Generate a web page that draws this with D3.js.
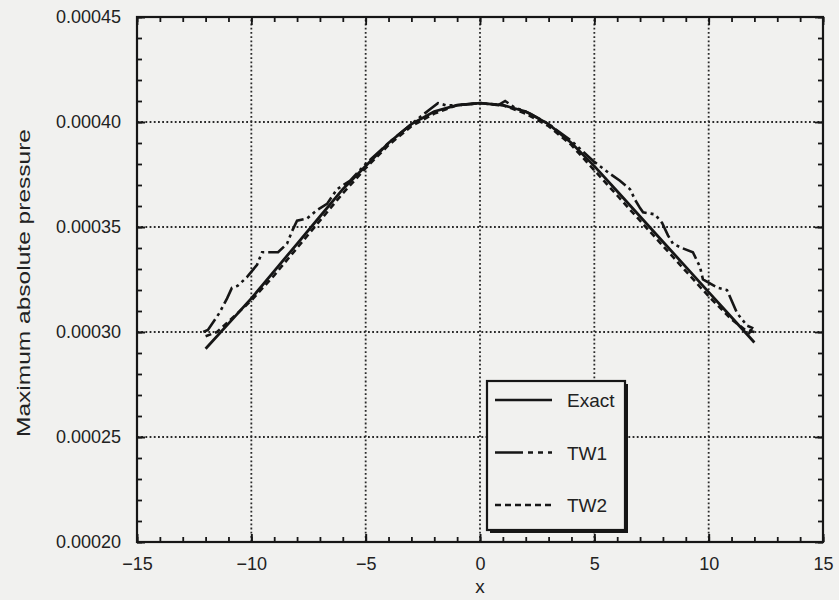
<!DOCTYPE html>
<html>
<head>
<meta charset="utf-8">
<script src="https://cdn.jsdelivr.net/npm/d3@7/dist/d3.min.js"></script>
<style>
  body { margin: 0; background: #f1f1ef; }
  svg { display: block; font-family: 'Liberation Sans', Arial, sans-serif; }
</style>
</head>
<body>
<svg width="839" height="600"></svg>
<script>
const xMajor = [-15, -10, -5, 0, 5, 10, 15]
const yMajor = [0.0002, 0.00025, 0.0003, 0.00035, 0.0004, 0.00045]

// Exact solution
const exactX = [-12, -11, -10, -9, -8, -7, -6, -5, -4, -3, -2, -1, 0, 1, 2, 3, 4, 5, 6, 7, 8, 9, 10, 11, 12]
const exactY = [0.000292, 0.000304, 0.000316, 0.000329, 0.000342, 0.000355, 0.000368, 0.000379, 0.000390, 0.000399, 0.000405, 0.000408, 0.000409,
  0.000408, 0.000405, 0.000399, 0.000390, 0.000379, 0.000367, 0.000355, 0.000343, 0.000331, 0.000319, 0.000307, 0.000295]

// TW1 (staircase-like)
const tw1X = [-12.1, -11.9, -11.4, -11.06, -10.85, -10.6, -10.2, -9.75, -9.53, -8.83, -8.44, -8.22, -8.0, -7.57, -7.13, -6.69, -6.25, -5.69, -5.0,
  -4.0, -3.0, -2.2, -1.84, -1.5, -1.0, 0, 0.8, 1.1, 1.5, 2.2, 3.0, 4.0, 5.0, 5.6,
  6.12, 6.56, 6.78, 7.0, 7.13, 7.65, 7.96, 8.22, 8.44, 8.83, 9.31, 9.62, 9.75, 10.41, 10.8, 11.24, 11.68, 11.9, 11.75]
const tw1Y = [0.000300, 0.000301, 0.000309, 0.000316, 0.000321, 0.000322, 0.000326, 0.000332, 0.000338, 0.000338, 0.000342, 0.000348, 0.000353, 0.000354, 0.000358, 0.000361, 0.000368, 0.000372, 0.000380,
  0.000390, 0.000399, 0.000406, 0.000409, 0.000408, 0.000408, 0.000409, 0.000408, 0.000410, 0.000407, 0.000404, 0.000399, 0.000391, 0.000381, 0.000376,
  0.000372, 0.000368, 0.000363, 0.000359, 0.000357, 0.000356, 0.000352, 0.000346, 0.000342, 0.000340, 0.000338, 0.000331, 0.000325, 0.000321, 0.000320, 0.000309, 0.000303, 0.000302, 0.000299]

// TW2 (close to exact)
const tw2X = [-12, -11.5, -11, -10, -9, -8, -7, -6, -5, -4, -3, -2, -1, 0, 1, 2, 3, 4, 5, 6, 7, 8, 9, 10, 11, 11.6, 12]
const tw2Y = [0.000298, 0.000300, 0.000305, 0.000315, 0.000327, 0.000340, 0.000353, 0.000366, 0.000378, 0.000389, 0.000398, 0.000404, 0.000408, 0.000409,
  0.000408, 0.000404, 0.000398, 0.000389, 0.000377, 0.000365, 0.000353, 0.000341, 0.000329, 0.000317, 0.000306, 0.000301, 0.000300]

const legendNames = ['Exact', 'TW1', 'TW2']
const dashes = [null, '18,4,3,4,3,4', '6,4']

let field = d3.select('svg')
let xScale = d3.scaleLinear().domain([-15, 15]).range([137, 823])
let yScale = d3.scaleLinear().domain([0.0002, 0.00045]).range([542, 17])
let xMinor = d3.range(-15, 15.01, 1)
let yMinor = d3.range(0, 26).map(i => 0.0002 + i * 0.00001)
let ink = '#161616'
let textInk = '#222'

// grid
let grid = field.append('g')
  .attr('stroke', '#2a2a2a')
  .attr('stroke-width', 1.8)
  .attr('stroke-dasharray', '1.8,2.4')
grid.selectAll('.gx')
  .data(xMajor.slice(1, -1))
  .enter()
  .append('line')
  .attr('x1', d => xScale(d)).attr('x2', d => xScale(d))
  .attr('y1', yScale(0.0002)).attr('y2', yScale(0.00045))
grid.selectAll('.gy')
  .data(yMajor.slice(1, -1))
  .enter()
  .append('line')
  .attr('y1', d => yScale(d)).attr('y2', d => yScale(d))
  .attr('x1', xScale(-15)).attr('x2', xScale(15))

// axes: minor ticks on all sides
let minorStyle = g => {
  g.select('.domain').remove()
  g.selectAll('text').remove()
  g.selectAll('line').attr('stroke', ink).attr('stroke-width', 1.8)
}
field.append('g').attr('transform', 'translate(0,542)')
  .call(d3.axisBottom(xScale).tickValues(xMinor).tickSize(-5)).call(minorStyle)
field.append('g').attr('transform', 'translate(0,17)')
  .call(d3.axisTop(xScale).tickValues(xMinor).tickSize(-5)).call(minorStyle)
field.append('g').attr('transform', 'translate(137,0)')
  .call(d3.axisLeft(yScale).tickValues(yMinor).tickSize(-5)).call(minorStyle)
field.append('g').attr('transform', 'translate(823,0)')
  .call(d3.axisRight(yScale).tickValues(yMinor).tickSize(-5)).call(minorStyle)

// major ticks with labels
let labelStyle = g => {
  g.select('.domain').remove()
  g.selectAll('line').attr('stroke', ink).attr('stroke-width', 2)
  g.selectAll('text').attr('fill', textInk).style('font-size', '18px')
}
field.append('g').attr('transform', 'translate(0,542)')
  .call(d3.axisBottom(xScale).tickValues(xMajor).tickSize(-8).tickPadding(15).tickFormat(d3.format('d')))
  .call(labelStyle)
field.append('g').attr('transform', 'translate(137,0)')
  .call(d3.axisLeft(yScale).tickValues(yMajor).tickSize(-8).tickPadding(16).tickFormat(d3.format('.5f')))
  .call(labelStyle)
field.append('g').attr('transform', 'translate(0,17)')
  .call(d3.axisTop(xScale).tickValues(xMajor).tickSize(-8).tickFormat('')).call(minorStyle)
field.append('g').attr('transform', 'translate(823,0)')
  .call(d3.axisRight(yScale).tickValues(yMajor).tickSize(-8).tickFormat('')).call(minorStyle)

// frame
field.append('rect')
  .attr('x', 137).attr('y', 17)
  .attr('width', 686).attr('height', 525)
  .attr('fill', 'none')
  .attr('stroke', ink)
  .attr('stroke-width', 2.2)

// curves
let line = d3.line().x(d => xScale(d[0])).y(d => yScale(d[1]))
let series = [
  d3.zip(exactX, exactY),
  d3.zip(tw1X, tw1Y),
  d3.zip(tw2X, tw2Y)
]
field.append('g')
  .selectAll('path')
  .data(series)
  .enter()
  .append('path')
  .attr('d', line)
  .attr('fill', 'none')
  .attr('stroke', ink)
  .attr('stroke-width', (d, i) => i === 0 ? 2.8 : 2.6)
  .attr('stroke-dasharray', (d, i) => dashes[i])

// legend
let legend = field.append('g')
legend.append('rect')
  .attr('x', 490).attr('y', 384).attr('width', 138).attr('height', 149)
  .attr('fill', ink)
legend.append('rect')
  .attr('x', 487).attr('y', 381).attr('width', 138).attr('height', 149)
  .attr('fill', '#f1f1ef')
  .attr('stroke', ink)
  .attr('stroke-width', 2.2)
let items = legend.selectAll('.item')
  .data(legendNames)
  .enter()
  .append('g')
  .attr('transform', (d, i) => 'translate(0,' + (400 + i * 52.5) + ')')
items.append('line')
  .attr('x1', 495).attr('x2', 552)
  .attr('stroke', ink)
  .attr('stroke-width', 2.6)
  .attr('stroke-dasharray', (d, i) => i === 1 ? '28,5,5,5,5,5' : dashes[i])
items.append('text')
  .text(d => d)
  .attr('x', 567)
  .attr('y', 7)
  .attr('fill', textInk)
  .style('font-size', '19px')

// axis titles
field.append('text')
  .text('x')
  .attr('x', 480)
  .attr('y', 593)
  .attr('text-anchor', 'middle')
  .attr('fill', textInk)
  .style('font-size', '19px')
field.append('text')
  .text('Maximum absolute pressure')
  .attr('transform', 'translate(30,283) rotate(-90)')
  .attr('text-anchor', 'middle')
  .attr('textLength', 308)
  .attr('lengthAdjust', 'spacingAndGlyphs')
  .attr('fill', textInk)
  .style('font-size', '18px')
</script>
</body>
</html>
